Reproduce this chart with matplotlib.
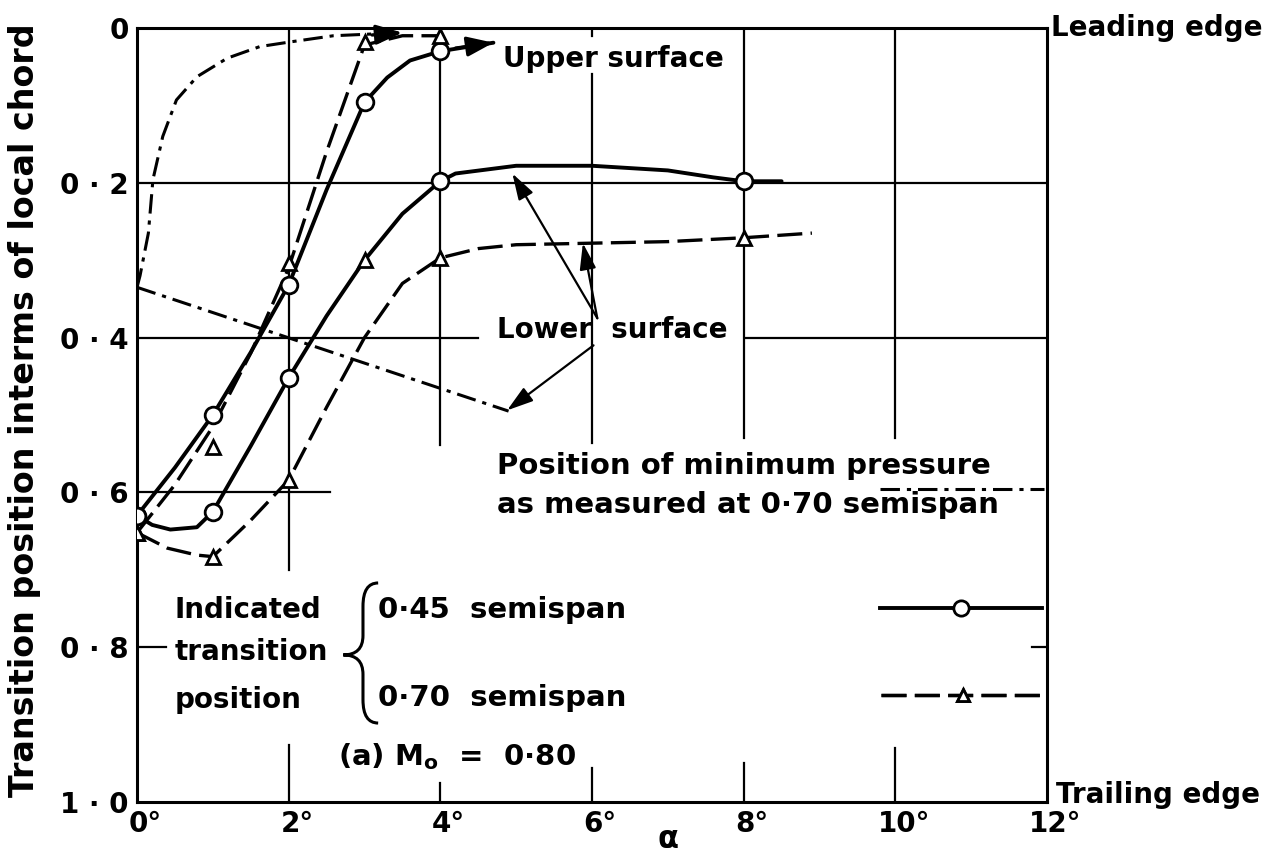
import matplotlib
matplotlib.use("Agg")
import matplotlib.pyplot as plt
from matplotlib.path import Path
from matplotlib.patches import PathPatch
from matplotlib.lines import Line2D
from matplotlib.transforms import ScaledTranslation

plt.rcParams["font.family"] = ["DejaVu Sans"]
plt.rcParams["font.weight"] = "bold"
plt.rcParams["mathtext.fontset"] = "dejavusans"
plt.rcParams["lines.scale_dashes"] = False

# axis ticks
x_ticks = [0, 2, 4, 6, 8, 10, 12]
x_labels = ["0°", "2°", "4°", "6°", "8°", "10°", "12°"]
y_ticks = [0, 0.2, 0.4, 0.6, 0.8, 1.0]
y_labels = ["0", "0 · 2", "0 · 4", "0 · 6", "0 · 8", "1 · 0"]

# 0.45 semispan, upper surface (solid, circles)
up45_alpha = [0, 1, 2, 3, 4]
up45_pos = [0.63, 0.50, 0.332, 0.096, 0.03]
up45_curve_alpha = [0, 0.5, 1, 1.5, 2, 2.5, 3, 3.3, 3.6, 4, 4.7]
up45_curve_pos = [0.63, 0.568, 0.50, 0.419, 0.332, 0.209, 0.096, 0.064, 0.042, 0.03, 0.019]

# 0.70 semispan, upper surface (dashed, triangles)
up70_alpha = [0, 1, 2, 3, 4]
up70_pos = [0.652, 0.541, 0.304, 0.018, 0.01]
up70_curve_alpha = [0, 0.5, 1, 1.5, 2, 2.5, 3, 3.5, 4]
up70_curve_pos = [0.652, 0.59, 0.515, 0.42, 0.31, 0.16, 0.022, 0.01, 0.01]

# 0.45 semispan, lower surface (solid, circles; 3 deg point drawn as triangle)
lo45_alpha = [0, 1, 2, 3, 4, 8]
lo45_pos = [0.63, 0.625, 0.452, 0.30, 0.198, 0.198]
lo45_marker = ["o", "o", "o", "^", "o", "o"]
lo45_curve_alpha = [0, 0.2, 0.44, 0.79, 1, 1.5, 2, 2.5, 3, 3.5, 4, 4.2, 5, 6, 7, 7.6, 8, 8.5]
lo45_curve_pos = [0.63, 0.642, 0.648, 0.645, 0.625, 0.54, 0.452, 0.372, 0.30, 0.24, 0.198,
                  0.188, 0.178, 0.178, 0.184, 0.193, 0.198, 0.198]

# 0.70 semispan, lower surface (dashed, triangles)
lo70_alpha = [0, 1, 2, 4, 8]
lo70_pos = [0.652, 0.683, 0.584, 0.297, 0.271]
lo70_curve_alpha = [0, 0.4, 0.79, 1, 1.5, 2, 2.5, 3, 3.5, 4, 4.5, 5, 6, 7, 8, 8.9]
lo70_curve_pos = [0.652, 0.672, 0.681, 0.683, 0.636, 0.584, 0.49, 0.40, 0.33, 0.297,
                  0.285, 0.28, 0.278, 0.276, 0.271, 0.265]

# position of minimum pressure at 0.70 semispan (dash-dot)
pmin_up_alpha = [0, 0.04, 0.15, 0.21, 0.34, 0.52, 0.79, 1.19, 1.62, 2.02, 2.59, 3.5]
pmin_up_pos = [0.335, 0.32, 0.265, 0.196, 0.14, 0.093, 0.063, 0.039, 0.024, 0.018, 0.010, 0.006]
pmin_lo_alpha = [0, 4.9]
pmin_lo_pos = [0.335, 0.495]

DASH = (0, (18, 6))
DASHDOT = (0, (14, 5, 3, 5))
FS = 20

fig = plt.figure(figsize=(12.65, 8.52), dpi=100)
ax = fig.add_axes([137 / 1265, 1 - 802 / 852, 910 / 1265, 774 / 852])
ax.set_xlim(0, 12)
ax.set_ylim(1.0, 0.0)
for s in ax.spines.values():
    s.set_linewidth(2.2)

# broken grid, as drawn on the original
glw = 1.6
for x, a, b in [(2, 0.30, 1), (2, 0, 0.073), (4, 0.461, 1), (4, 0, 0.025),
                (6, 0.464, 0.94), (6, 0.99, 1), (6, 0, 0.044), (8, 0.47, 1), (8, 0, 0.05),
                (10, 0.47, 1), (10, 0, 0.07)]:
    ax.axvline(x, a, b, color="k", lw=glw)
for y, a, b in [(0.2, 0, 1), (0.4, 0, 0.375), (0.4, 0.668, 1), (0.6, 0, 0.212),
                (0.8, 0, 0.032), (0.8, 0.984, 1)]:
    ax.axhline(y, a, b, color="k", lw=glw)

ax.set_xticks(x_ticks, x_labels, fontsize=FS)
ax.set_yticks(y_ticks, y_labels, fontsize=FS)
ax.tick_params(length=0, pad=6)
for lab in ax.get_xticklabels():
    lab.set_transform(lab.get_transform() + ScaledTranslation(6 / 72, 0, fig.dpi_scale_trans))

# curves
ax.plot(up45_curve_alpha, up45_curve_pos, color="k", lw=2.8, solid_capstyle="round")
ax.plot(lo45_curve_alpha, lo45_curve_pos, color="k", lw=2.8, solid_capstyle="round")
ax.plot(up70_curve_alpha, up70_curve_pos, color="k", lw=2.4, ls=DASH)
ax.plot(lo70_curve_alpha, lo70_curve_pos, color="k", lw=2.4, ls=DASH)
ax.plot(pmin_up_alpha, pmin_up_pos, color="k", lw=2.2, ls=DASHDOT)
ax.plot(pmin_lo_alpha, pmin_lo_pos, color="k", lw=2.2, ls=DASHDOT)

mk = dict(color="k", mfc="white", mew=2, ls="none", zorder=5)
ax.plot(up45_alpha, up45_pos, marker="o", ms=12, **mk)
ax.plot(up70_alpha, up70_pos, marker="^", ms=10, **mk)
ax.plot(lo70_alpha, lo70_pos, marker="^", ms=10, **mk)
for a, p, m in zip(lo45_alpha, lo45_pos, lo45_marker):
    ax.plot(a, p, marker=m, ms=12 if m == "o" else 10, **mk)

# arrowheads at the end of the upper-surface curves
head = dict(arrowstyle="-|>,head_length=0.8,head_width=0.3", color="k", lw=2.4,
            mutation_scale=20, shrinkA=0, shrinkB=0)
ax.annotate("", xy=(up45_curve_alpha[-1], up45_curve_pos[-1]),
            xytext=(up45_curve_alpha[-2] + 0.2, up45_curve_pos[-2] - 0.004), arrowprops=head)
ax.annotate("", xy=(pmin_up_alpha[-1], pmin_up_pos[-1]),
            xytext=(pmin_up_alpha[-1] - 0.4, pmin_up_pos[-1] + 0.003), arrowprops=head)

# text labels
ax.text(4.82, 0.04, "Upper surface", fontsize=FS, ha="left", va="center")
ax.text(6.27, 0.39, "Lower  surface", fontsize=FS, ha="center", va="center")
pointer = dict(arrowstyle="-|>,head_length=0.8,head_width=0.25", color="k", lw=1.6,
               mutation_scale=20, shrinkA=0, shrinkB=0)
ax.annotate("", xy=(4.95, 0.188), xytext=(6.07, 0.375), arrowprops=pointer)
ax.annotate("", xy=(5.88, 0.278), xytext=(6.07, 0.375), arrowprops=pointer)
ax.annotate("", xy=(4.88, 0.494), xytext=(6.02, 0.41), arrowprops=pointer)

ax.text(4.75, 0.566, "Position of minimum pressure", fontsize=21, ha="left", va="center")
ax.text(4.75, 0.616, "as measured at 0·70 semispan", fontsize=21, ha="left", va="center")

for t, y in [("Indicated", 0.752), ("transition", 0.806), ("position", 0.868)]:
    ax.text(0.50, y, t, fontsize=FS, ha="left", va="center")
ax.text(3.18, 0.752, "0·45  semispan", fontsize=21, ha="left", va="center")
ax.text(3.18, 0.866, "0·70  semispan", fontsize=21, ha="left", va="center")
ax.text(2.65, 0.952, r"(a) M$_{\mathbf{o}}$  =  0·80", fontsize=21, ha="left", va="baseline")

# brace
bx0, bx1, bxt = 3.18, 2.98, 2.72
by0, bym, by1 = 0.717, 0.81, 0.898
verts = [(bx0, by0), (bx1, by0), (bx1, by0 + 0.03), (bx1, bym - 0.025),
         (bx1, bym), (bxt, bym), (bx1, bym), (bx1, bym + 0.025),
         (bx1, by1 - 0.03), (bx1, by1), (bx0, by1)]
codes = [Path.MOVETO, Path.CURVE3, Path.CURVE3, Path.LINETO,
         Path.CURVE3, Path.CURVE3, Path.CURVE3, Path.CURVE3,
         Path.LINETO, Path.CURVE3, Path.CURVE3]
ax.add_patch(PathPatch(Path(verts, codes), fill=False, lw=2.2, color="k"))


# key samples
def key(handle, x0, y0, length):
    leg = ax.legend([handle], [""], loc="center left", bbox_to_anchor=(x0, y0),
                    bbox_transform=ax.transAxes, frameon=False, handlelength=length,
                    handletextpad=0, borderpad=0, borderaxespad=0, numpoints=1, fontsize=FS)
    ax.add_artist(leg)


key(Line2D([], [], color="k", lw=2.2, ls=DASHDOT), 0.817, 0.402, 5.9)
key(Line2D([], [], color="k", lw=2.8, marker="o", ms=11, mfc="white", mew=2), 0.817, 0.248, 5.8)
key(Line2D([], [], color="k", lw=2.4, ls=DASH, marker="^", ms=9, mfc="white", mew=2),
    0.818, 0.136, 5.85)

ax.text(1.004, 1.0, "Leading edge", transform=ax.transAxes, fontsize=FS, ha="left", va="center")
ax.text(1.01, -0.009, "Trailing edge", transform=ax.transAxes, fontsize=FS,
        ha="left", va="bottom")

fig.text(25 / 1265, 1 - 410 / 852, "Transition position interms of local chord",
         rotation=90, fontsize=24, ha="center", va="center")
fig.text(668 / 1265, 1 - 840 / 852, "α", fontsize=FS + 2, ha="center", va="center")

fig.savefig("out.png", dpi=100)
